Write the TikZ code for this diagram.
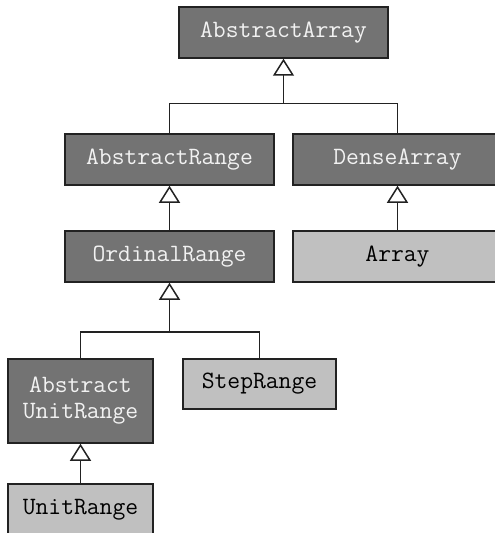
\documentclass[tikz,border=0pt]{standalone}
\usetikzlibrary{arrows.meta}
\definecolor{abstractfill}{HTML}{737373}
\definecolor{concretefill}{HTML}{C0C0C0}
\definecolor{edgecol}{HTML}{222222}
\definecolor{abstracttext}{HTML}{F2F2F2}
\tikzset{
  typebox/.style={draw=edgecol, line width=1.5bp, rectangle, inner sep=0pt,
    align=center, font=\ttfamily\fontsize{25}{26}\selectfont},
  abstracttype/.style={typebox, fill=abstractfill, text=abstracttext},
  concretetype/.style={typebox, fill=concretefill, text=black},
  link/.style={draw=edgecol, line width=1.5bp},
  inherits/.style={link, -{Triangle[open, length=17bp, width=21bp, line width=1.5bp]}}
}
\begin{document}
\begin{tikzpicture}[x=1bp, y=-1bp]
  \useasboundingbox (0,0) rectangle (495,533);
  \clip (0,0) rectangle (495,533);

  % type nodes
  \node[abstracttype, minimum width=209bp, minimum height=51bp] (aa)  at (283.5,32.5) {AbstractArray};
  \node[abstracttype, minimum width=209bp, minimum height=51bp] (ar)  at (169.5,159.5) {AbstractRange};
  \node[abstracttype, minimum width=209bp, minimum height=51bp] (da)  at (397.5,159.5) {DenseArray};
  \node[abstracttype, minimum width=209bp, minimum height=51bp] (or)  at (169.5,256.5) {OrdinalRange};
  \node[concretetype, minimum width=209bp, minimum height=51bp] (arr) at (397.5,256.5) {Array};
  \node[abstracttype, minimum width=145bp, minimum height=84bp] (aur) at (80.5,401) {Abstract\\UnitRange};
  \node[concretetype, minimum width=153bp, minimum height=50bp] (sr)  at (259.5,384) {StepRange};
  \node[concretetype, minimum width=145bp, minimum height=51bp] (ur)  at (80.5,509.5) {UnitRange};

  % junction points of the shared inheritance lines
  \coordinate (j1) at (283.5,103.5);
  \coordinate (j2) at (169.5,332);

  % AbstractRange and DenseArray inherit from AbstractArray
  \draw[link] (ar.north) |- (j1) -| (da.north);
  \draw[inherits] (j1) -- (aa.south);

  % single inheritance
  \draw[inherits] (or.north) -- (ar.south);
  \draw[inherits] (arr.north) -- (da.south);

  % AbstractUnitRange and StepRange inherit from OrdinalRange
  \draw[link] (aur.north) |- (j2) -| (sr.north);
  \draw[inherits] (j2) -- (or.south);

  \draw[inherits] (ur.north) -- (aur.south);
\end{tikzpicture}
\end{document}
